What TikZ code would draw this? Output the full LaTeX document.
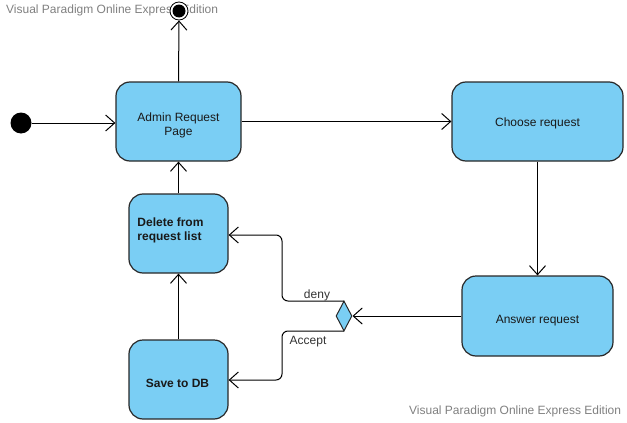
\documentclass[tikz,border=0pt]{standalone}
\usepackage{fontspec}
\setmainfont{Liberation Sans}
\usetikzlibrary{arrows.meta,shapes.geometric}
\definecolor{stfill}{RGB}{122,206,244}
\definecolor{stborder}{RGB}{40,40,40}
\definecolor{wm}{RGB}{128,128,128}
\tikzset{
  state/.style={draw=stborder,fill=stfill,line width=1.2pt,rounded corners=14pt,inner sep=0pt},
  sttext/.style={text=black!90,font=\fontsize{12}{14}\selectfont,align=center,inner sep=0pt},
  boldtext/.style={text=black!90,font=\fontsize{12}{14}\selectfont\bfseries,align=left,inner sep=0pt},
  flow/.style={line width=1pt,-{Straight Barb[length=9pt,width=16pt,line width=1pt]}},
  lbl/.style={font=\fontsize{12}{14}\selectfont,text=black!80,inner sep=1pt},
  watermark/.style={font=\fontsize{12}{14}\selectfont,text=wm,inner sep=0pt}
}
\begin{document}
\begin{tikzpicture}[x=1pt,y=-1pt]
\useasboundingbox (0,0) rectangle (627,423);
\node[watermark,anchor=west] (wm1) at (6,10) {Visual Paradigm Online Express Edition};
\node[watermark,anchor=west] (wm2) at (409,411) {Visual Paradigm Online Express Edition};

\node[state,minimum width=125pt,minimum height=79pt,
  label={[sttext,yshift=-4pt]center:{Admin Request\\Page}}] (admin) at (178.5,121.5) {};
\node[state,minimum width=171pt,minimum height=79pt,
  label={[sttext,yshift=-2pt]center:{Choose request}}] (choose) at (537.5,121.5) {};
\node[state,minimum width=151pt,minimum height=80pt,
  label={[sttext,yshift=-5pt]center:{Answer request}}] (answer) at (537.5,316) {};
\node[state,minimum width=99pt,minimum height=79pt,
  label={[boldtext,yshift=3pt,xshift=-8pt]center:{Delete from\\request list}}] (delete) at (178.5,233.5) {};
\node[state,minimum width=99pt,minimum height=79pt,
  label={[boldtext,yshift=-4pt,xshift=-1pt]center:{Save to DB}}] (save) at (178.5,379.5) {};

\node[circle,fill=black,minimum size=21pt,inner sep=0pt] (init) at (21,123) {};
\node[circle,draw=black,fill=white,line width=0.8pt,minimum size=18pt,inner sep=0pt] (final) at (179,11) {};
\node[circle,fill=black,minimum size=13pt,inner sep=0pt] (finalin) at (179,11) {};

\node[diamond,draw=stborder,fill=stfill,line width=1pt,minimum width=16pt,minimum height=30pt,inner sep=0pt,aspect=0.5] (dec) at (344,316) {};

\coordinate (dTop) at (344,301);
\coordinate (dBot) at (344,331);

\draw[flow] (init) -- (admin.west |- init);
\draw[flow] (admin.north) -- (final.south);
\draw[flow] (admin.east) -- (choose.west);
\draw[flow] (choose.south) -- (answer.north);
\draw[flow] (answer.west) -- (dec.east);
\draw[flow] (save.north) -- (delete.south);
\draw[flow] (delete.north) -- (admin.south);
\draw[flow,rounded corners=6pt] (dTop) -- (282,301) -- (282,235) -- (delete.east |- 0,235);
\draw[flow,rounded corners=6pt] (dBot) -- (282,331) -- (282,380) -- (save.east |- 0,380);
\node[lbl] (deny) at (317,295) {deny};
\node[lbl] (accept) at (308,342) {Accept};
\end{tikzpicture}
\end{document}
